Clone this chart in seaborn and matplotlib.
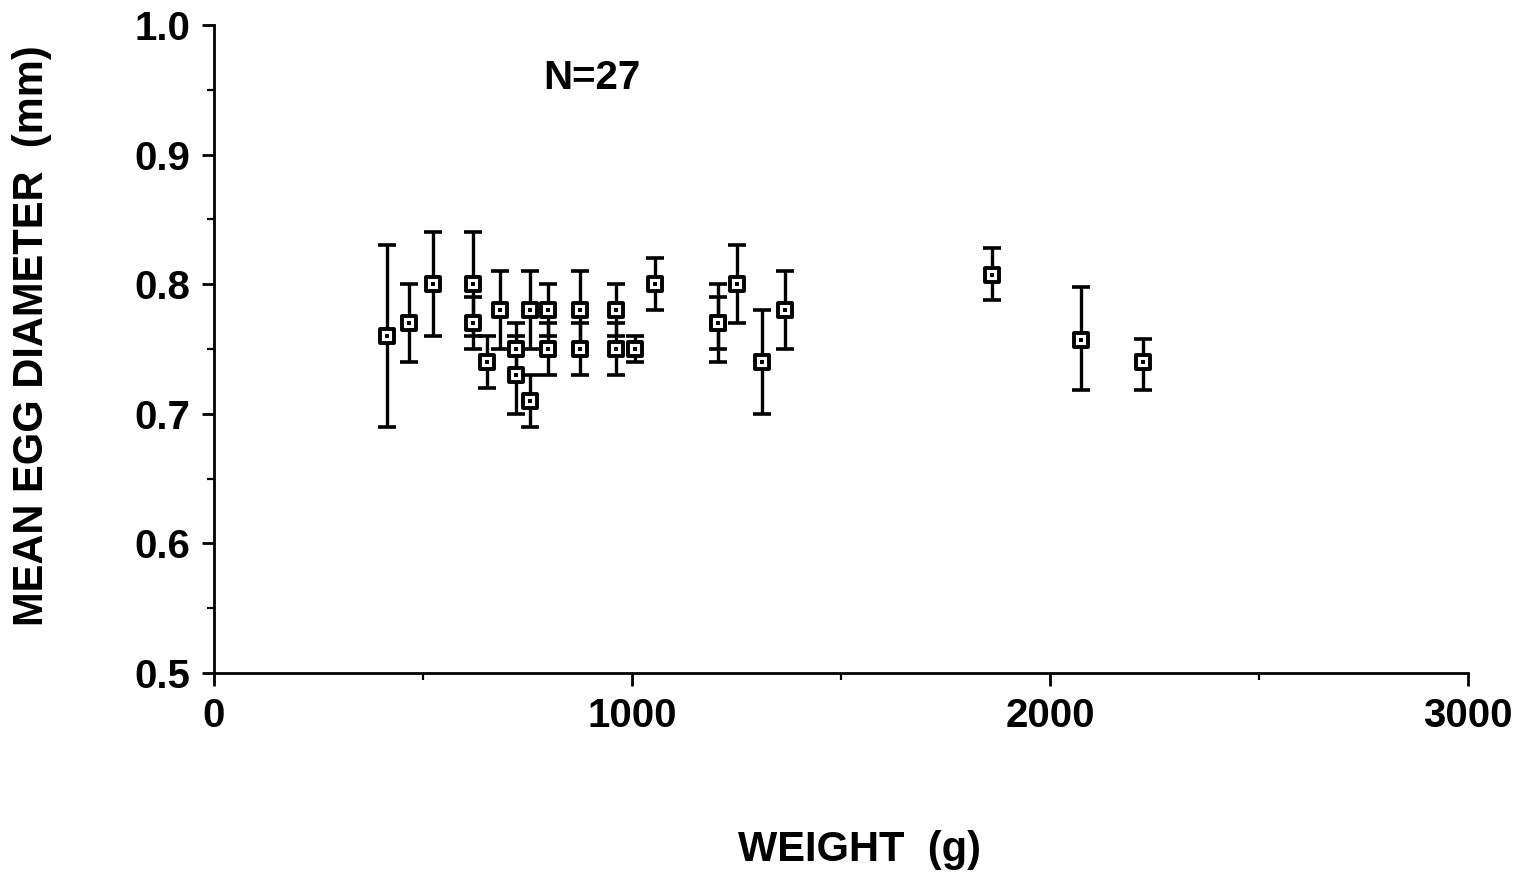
import numpy as np
import pandas as pd
import matplotlib.pyplot as plt
import seaborn as sns
from matplotlib.ticker import MultipleLocator

# Data
weight = [414, 466, 524, 620, 620, 653, 684, 722, 722, 756, 756, 799, 799, 875,
          875, 962, 962, 1007, 1055, 1206, 1206, 1251, 1311, 1366, 1861, 2074, 2222]
diameter = [0.76, 0.77, 0.80, 0.80, 0.77, 0.74, 0.78, 0.75, 0.73, 0.78, 0.71, 0.78,
            0.75, 0.78, 0.75, 0.78, 0.75, 0.75, 0.80, 0.77, 0.77, 0.80, 0.74, 0.78,
            0.807, 0.757, 0.74]
err_low = [0.69, 0.74, 0.76, 0.76, 0.75, 0.72, 0.75, 0.73, 0.70, 0.75, 0.69, 0.76,
           0.73, 0.75, 0.73, 0.76, 0.73, 0.74, 0.78, 0.74, 0.75, 0.77, 0.70, 0.75,
           0.788, 0.718, 0.718]
err_high = [0.83, 0.80, 0.84, 0.84, 0.79, 0.76, 0.81, 0.77, 0.76, 0.81, 0.73, 0.80,
            0.77, 0.81, 0.77, 0.80, 0.77, 0.76, 0.82, 0.80, 0.79, 0.83, 0.78, 0.81,
            0.828, 0.798, 0.758]

df = pd.DataFrame({'weight': weight, 'diameter': diameter,
                   'low': err_low, 'high': err_high})

sns.set_style('ticks')
plt.rcParams['font.family'] = ['Liberation Sans', 'DejaVu Sans']
plt.rcParams['font.weight'] = 'bold'
for key in ['text.color', 'axes.labelcolor', 'xtick.color', 'ytick.color',
            'axes.edgecolor']:
    plt.rcParams[key] = 'black'

fig = plt.figure(figsize=(15.2, 8.77), dpi=100, facecolor='white')
ax = fig.add_axes([0.1408, 0.2326, 0.825, 0.7389])

# error bars
yerr = np.array([df['diameter'] - df['low'], df['high'] - df['diameter']])
ax.errorbar(df['weight'], df['diameter'], yerr=yerr, fmt='none', ecolor='black',
            elinewidth=2.4, capsize=6.5, capthick=2.6, zorder=2)

# square markers
sns.scatterplot(data=df, x='weight', y='diameter', ax=ax, marker='s', s=110,
                color='white', edgecolor='black', linewidth=2.8, zorder=3,
                legend=False)
sns.scatterplot(data=df, x='weight', y='diameter', ax=ax, marker='s', s=5,
                color='black', linewidth=0, zorder=4, legend=False)

ax.set_xlim(0, 3000)
ax.set_ylim(0.5, 1.0)
ax.xaxis.set_major_locator(MultipleLocator(1000))
ax.xaxis.set_minor_locator(MultipleLocator(500))
ax.yaxis.set_minor_locator(MultipleLocator(0.05))
ax.set_yticks([0.5, 0.6, 0.7, 0.8, 0.9, 1.0])
ax.set_yticklabels(['0.5', '0.6', '0.7', '0.8', '0.9', '1.0'])

sns.despine(ax=ax)
for side in ['left', 'bottom']:
    ax.spines[side].set_linewidth(2.0)
ax.tick_params(which='major', length=9, width=2.0, labelsize=29, pad=8)
ax.tick_params(which='minor', length=5, width=1.6)
for lab in ax.get_xticklabels() + ax.get_yticklabels():
    lab.set_fontweight('bold')

ax.set_xlabel('WEIGHT  (g)', fontsize=30, fontweight='bold', va='center')
ax.xaxis.set_label_coords(0.515, -0.273)
ax.set_ylabel('MEAN EGG DIAMETER  (mm)', fontsize=30, fontweight='bold', va='center')
ax.yaxis.set_label_coords(-0.145, 0.52)

ax.text(0.301, 0.918, 'N=27', transform=ax.transAxes, fontsize=29,
        fontweight='bold', ha='center', va='center')

plt.savefig('out.png', dpi=100, facecolor='white')
